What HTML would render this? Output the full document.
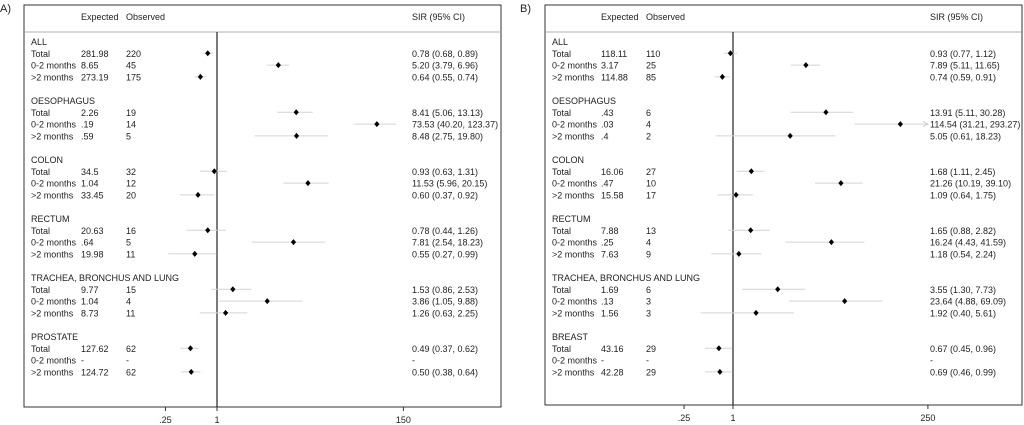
<!DOCTYPE html>
<html><head><meta charset="utf-8"><style>
body{margin:0;background:#fff;}
svg{display:block;font-family:"Liberation Sans",sans-serif;font-size:9px;fill:#222;}
</style></head><body>
<svg id="c" width="1024" height="425"></svg>
<script>
const groupsA = ["ALL","OESOPHAGUS","COLON","RECTUM","TRACHEA, BRONCHUS AND LUNG","PROSTATE"];
const groupsB = ["ALL","OESOPHAGUS","COLON","RECTUM","TRACHEA, BRONCHUS AND LUNG","BREAST"];
const rowLabels = ["Total","0-2 months",">2 months"];
const expectedA = ["281.98","8.65","273.19","2.26",".19",".59","34.5","1.04","33.45","20.63",".64","19.98","9.77","1.04","8.73","127.62","-","124.72"];
const observedA = ["220","45","175","19","14","5","32","12","20","16","5","11","15","4","11","62","-","62"];
const sirA = [0.78,5.20,0.64,8.41,73.53,8.48,0.93,11.53,0.60,0.78,7.81,0.55,1.53,3.86,1.26,0.49,null,0.50];
const lowA = [0.68,3.79,0.55,5.06,40.20,2.75,0.63,5.96,0.37,0.44,2.54,0.27,0.86,1.05,0.63,0.37,null,0.38];
const highA = [0.89,6.96,0.74,13.13,123.37,19.80,1.31,20.15,0.92,1.26,18.23,0.99,2.53,9.88,2.25,0.62,null,0.64];
const expectedB = ["118.11","3.17","114.88",".43",".03",".4","16.06",".47","15.58","7.88",".25","7.63","1.69",".13","1.56","43.16","-","42.28"];
const observedB = ["110","25","85","6","4","2","27","10","17","13","4","9","6","3","3","29","-","29"];
const sirB = [0.93,7.89,0.74,13.91,114.54,5.05,1.68,21.26,1.09,1.65,16.24,1.18,3.55,23.64,1.92,0.67,null,0.69];
const lowB = [0.77,5.11,0.59,5.11,31.21,0.61,1.11,10.19,0.64,0.88,4.43,0.54,1.30,4.88,0.40,0.45,null,0.46];
const highB = [1.12,11.65,0.91,30.28,293.27,18.23,2.45,39.10,1.75,2.82,41.59,2.24,7.73,69.09,5.61,0.96,null,0.99];
const ticksA = [0.25,1,150], tickLabelsA = [".25","1","150"];
const ticksB = [0.25,1,250], tickLabelsB = [".25","1","250"];

const NS="http://www.w3.org/2000/svg", svg=document.getElementById('c');
function mk(tag,attrs,parent,text){const e=document.createElementNS(NS,tag);for(const k in attrs)e.setAttribute(k,attrs[k]);if(text!==undefined)e.textContent=text;(parent||svg).appendChild(e);return e;}
function fmt(v){return v.toFixed(2);}

function panel(P){
  const g=mk('g',{});
  
  
  const t=mk('text',{x:P.lx,y:12,'font-size':11},g,P.letter);
  
  
  const box=mk('rect',{x:P.x0,y:5,width:P.x1-P.x0,height:P.yb-5,fill:'none',stroke:'#333','stroke-width':1},g);
  
  
  const hl=mk('line',{x1:P.x0,x2:P.x1,y1:32,y2:32,stroke:'#999','stroke-width':0.8},g);
  
  
  const hdr=[["Expected",P.ex],["Observed",P.ob],["SIR (95% CI)",P.sx]];
  hdr.forEach(h=>{const e=mk('text',{x:h[1],y:20},g,h[0]);
    
    });
  const xs=v=>P.x1ref+Math.log(v)*P.k;
  const ref=mk('line',{x1:xs(1),x2:xs(1),y1:32,y2:P.yb,stroke:'#222','stroke-width':1.2},g);
  
  
  const xmax=P.ticks[P.ticks.length-1];
  P.ticks.forEach((tv,i)=>{
    const x=xs(tv);
    mk('line',{x1:x,x2:x,y1:P.yb,y2:P.yb+4,stroke:'#333'},g);
    const e=mk('text',{x:x,y:P.yb+16,'text-anchor':'middle'},g,P.tickLabels[i]);
    
    
  });
  P.groups.forEach((gn,gi)=>{
    const gy=45+gi*59;
    const e=mk('text',{x:P.tx,y:gy},g,gn);
    
    
    for(let r=0;r<3;r++){
      const i=gi*3+r, y=gy+11.8*(r+1);
      const row=mk('g',{},g);
      
      
      mk('text',{x:P.tx,y:y},row,rowLabels[r]);
      mk('text',{x:P.ex,y:y},row,P.exp[i]);
      mk('text',{x:P.ob,y:y},row,P.obs[i]);
      const s=P.sir[i];
      mk('text',{x:P.sx,y:y},row,s==null?"-":fmt(s)+" ("+fmt(P.low[i])+", "+fmt(P.high[i])+")");
      if(s!=null){
        const cy=y-3.5, hi=Math.min(P.high[i],xmax);
        const ci=mk('line',{x1:xs(P.low[i]),x2:xs(hi),y1:cy,y2:cy,stroke:'#d4d4d4','stroke-width':1},row);
        
        
        if(P.high[i]>xmax){const ax=xs(xmax);mk('path',{d:`M${ax-5},${cy-2.5}L${ax},${cy}L${ax-5},${cy+2.5}`,fill:'none',stroke:'#ccc'},row);}
        const x=xs(s);
        const d=mk('path',{d:`M${x},${cy-3}L${x+2.6},${cy}L${x},${cy+3}L${x-2.6},${cy}Z`,fill:'#000'},row);
        
        
      }
    }
  });
}
panel({name:'panel-a',letter:'A)',lx:0,x0:24,x1:501,yb:407,tx:31,ex:81,ob:126,sx:412,x1ref:217,k:37.2,
  groups:groupsA,exp:expectedA,obs:observedA,sir:sirA,low:lowA,high:highA,ticks:ticksA,tickLabels:tickLabelsA});
panel({name:'panel-b',letter:'B)',lx:520,x0:545,x1:1022,yb:405,tx:552,ex:601,ob:646,sx:930,x1ref:733,k:35.3,
  groups:groupsB,exp:expectedB,obs:observedB,sir:sirB,low:lowB,high:highB,ticks:ticksB,tickLabels:tickLabelsB});
</script>
</body></html>
